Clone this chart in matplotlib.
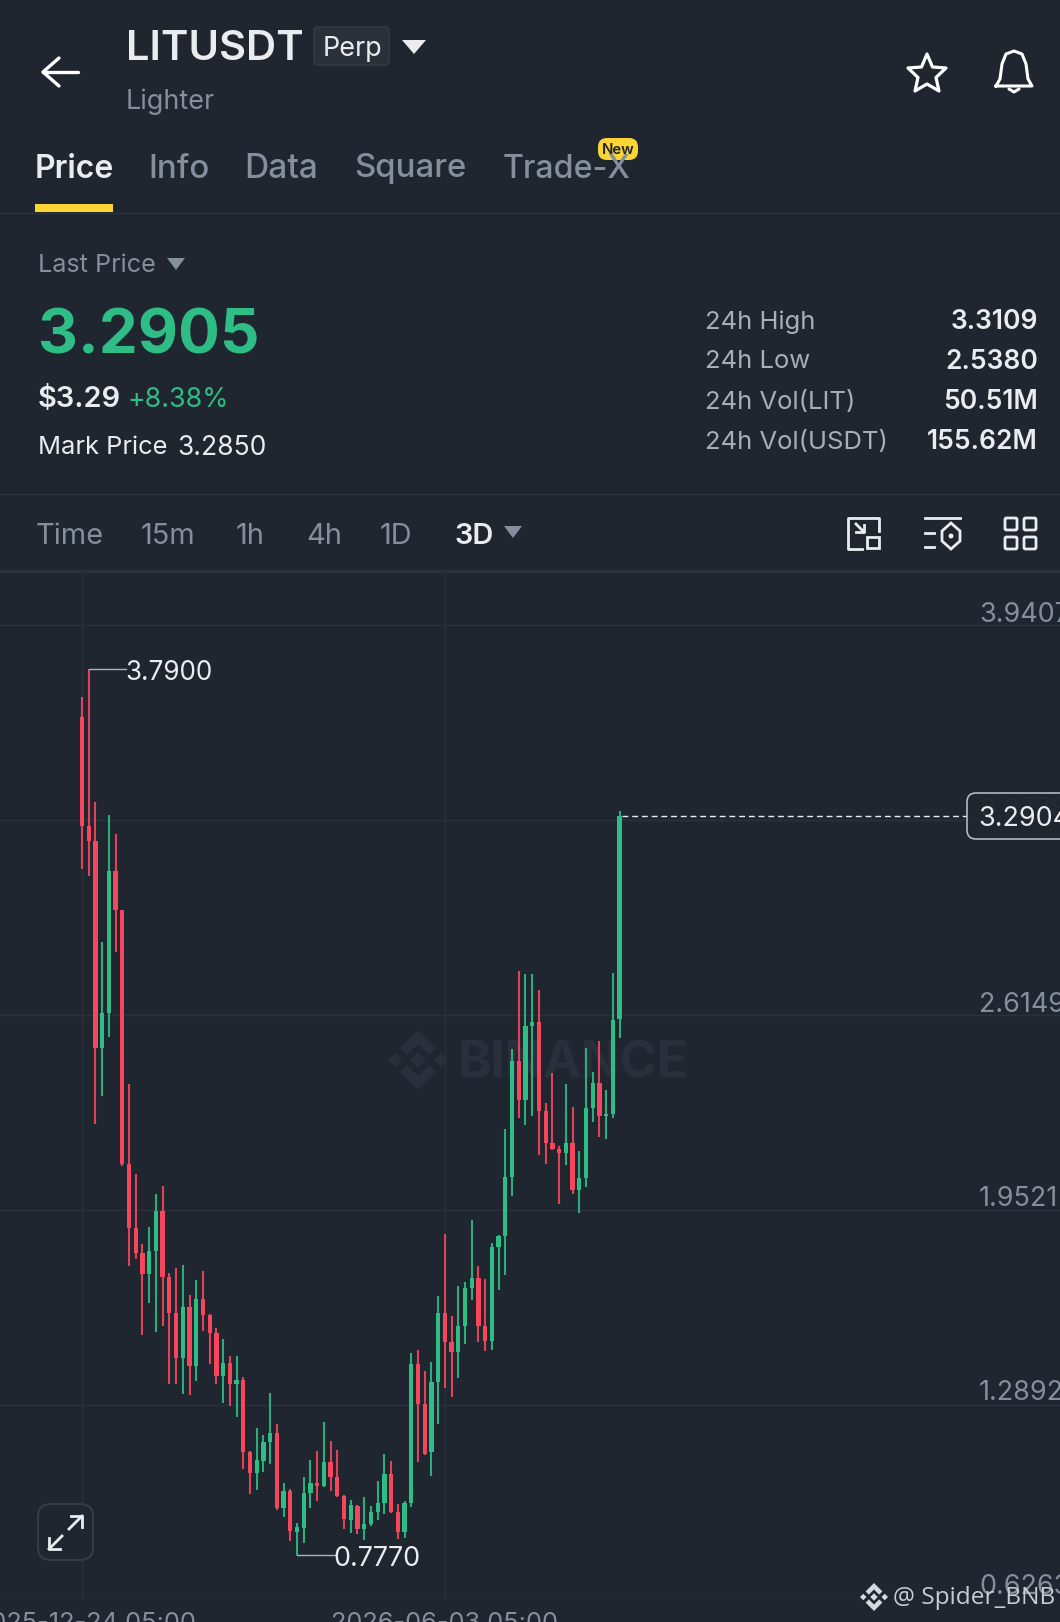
import matplotlib
matplotlib.use("Agg")
import matplotlib.pyplot as plt
from matplotlib.patches import FancyBboxPatch, Polygon, Rectangle, Circle

BG = "#1f2630"
GRID = "#2c323d"
RED = "#f6465d"
GREEN = "#2ebd85"
GREY = "#848e9c"
WHITE = "#eaecef"
YELLOW = "#fcd535"
plt.rcParams["font.family"] = ["Inter", "DejaVu Sans"]

# candles, 3D bars
open_ = [3.627, 3.257, 3.207, 2.501, 2.620, 3.104, 2.972, 2.107, 1.889, 1.806,
         1.733, 1.812, 1.949, 1.725, 1.600, 1.447, 1.623, 1.422, 1.648, 1.593,
         1.534, 1.388, 1.430, 1.360, 1.372, 1.129, 1.058, 1.099, 1.162, 1.194,
         0.938, 0.997, 0.856, 0.871, 0.990, 1.024, 1.013, 1.093, 1.042, 0.979,
         0.897, 0.946, 0.866, 0.884, 0.923, 0.956, 1.053, 0.925, 0.857, 0.954,
         1.428, 1.293, 1.129, 1.367, 1.602, 1.503, 1.467, 1.557, 1.685, 1.721,
         1.557, 1.507, 1.827, 1.863, 2.065, 2.457, 2.326, 2.576, 2.592, 2.288,
         2.180, 2.160, 2.146, 2.178, 2.019, 2.060, 2.297, 2.382, 2.271, 2.279,
         2.601]
close = [3.257, 3.207, 2.501, 2.620, 3.104, 2.972, 2.107, 1.889, 1.806, 1.734,
         1.812, 1.949, 1.725, 1.600, 1.447, 1.623, 1.422, 1.648, 1.593, 1.534,
         1.388, 1.430, 1.360, 1.372, 1.129, 1.058, 1.100, 1.162, 1.194, 0.938,
         0.997, 0.859, 0.872, 0.988, 1.022, 1.013, 1.093, 1.042, 0.979, 0.900,
         0.947, 0.866, 0.884, 0.923, 0.954, 1.053, 0.925, 0.857, 0.954, 1.428,
         1.293, 1.120, 1.367, 1.602, 1.503, 1.467, 1.557, 1.685, 1.721, 1.557,
         1.507, 1.825, 1.863, 2.065, 2.457, 2.326, 2.576, 2.592, 2.288, 2.180,
         2.160, 2.146, 2.178, 2.019, 2.060, 2.297, 2.382, 2.271, 2.279, 2.599,
         3.2904]
high = [3.697, 3.790, 3.338, 2.863, 3.295, 3.229, 2.972, 2.380, 2.073, 1.836,
        1.894, 2.007, 2.034, 1.736, 1.755, 1.763, 1.662, 1.713, 1.745, 1.599,
        1.551, 1.512, 1.454, 1.453, 1.382, 1.132, 1.211, 1.187, 1.328, 1.224,
        1.024, 1.002, 0.888, 1.044, 1.100, 1.133, 1.229, 1.167, 1.134, 0.983,
        0.965, 0.947, 0.975, 0.945, 1.031, 1.120, 1.099, 0.951, 0.963, 1.466,
        1.475, 1.402, 1.433, 1.658, 1.871, 1.592, 1.692, 1.708, 1.917, 1.761,
        1.718, 1.840, 1.865, 2.226, 2.498, 2.765, 2.754, 2.754, 2.699, 2.316,
        2.417, 2.169, 2.380, 2.301, 2.151, 2.501, 2.421, 2.527, 2.359, 2.756,
        3.309]
low = [3.111, 3.088, 2.244, 2.339, 2.539, 2.827, 2.101, 1.762, 1.785, 1.526,
       1.636, 1.535, 1.557, 1.359, 1.360, 1.326, 1.321, 1.369, 1.540, 1.427,
       1.359, 1.296, 1.286, 1.247, 1.071, 0.985, 0.999, 1.060, 1.088, 0.931,
       0.906, 0.826, 0.777, 0.820, 0.939, 0.963, 1.010, 0.997, 0.975, 0.868,
       0.854, 0.848, 0.829, 0.878, 0.897, 0.919, 0.920, 0.832, 0.836, 0.940,
       1.093, 1.118, 1.047, 1.223, 1.347, 1.316, 1.380, 1.497, 1.644, 1.503,
       1.473, 1.475, 1.679, 1.730, 2.000, 2.263, 2.240, 2.272, 2.138, 2.107,
       2.155, 1.972, 2.104, 2.006, 1.942, 2.031, 2.252, 2.201, 2.192, 2.263,
       2.537]

price_ticks = [3.9407, 3.2778, 2.6149, 1.9521, 1.2892, 0.6263]
price_labels = ["3.9407", "3.2778", "2.6149", "1.9521", "1.2892", "0.6263"]
label_pad = [10, 10, 10, 11, 12, 13]
date_idx = [0, 54]
date_labels = ["2025-12-24 05:00", "2026-06-03 05:00"]
date_shift = [3, 0]
last_price = 3.2904
hi_idx, hi_val = 1, 3.79
lo_idx, lo_val = 32, 0.777

tabs = ["Price", "Info", "Data", "Square", "Trade-X"]
tab_x = [35, 148, 244, 354, 503]
tab_size = [32, 33, 33.5, 33, 32.2]
ranges = ["Time", "15m", "1h", "4h", "1D", "3D"]
range_x = [36, 141, 236, 306, 380, 455]
stat_names = ["24h High", "24h Low", "24h Vol(LIT)", "24h Vol(USDT)"]
stat_vals = ["3.3109", "2.5380", "50.51M", "155.62M"]
stat_y = [322, 362, 402, 442]


def fs(n):
    # font px to points at dpi 100
    return n * 0.72


def binance_logo(a, cx, cy, r, color):
    s = r / 30.0
    pts = [
        [(0, -8), (8, 0), (0, 8), (-8, 0)],
        [(-30, 0), (-23, -7), (-16, 0), (-23, 7)],
        [(30, 0), (23, -7), (16, 0), (23, 7)],
        [(0, -30), (18, -12), (11, -5), (0, -16), (-11, -5), (-18, -12)],
        [(0, 30), (18, 12), (11, 5), (0, 16), (-11, 5), (-18, 12)],
    ]
    for p in pts:
        a.add_patch(Polygon([(cx + x * s, cy + y * s) for x, y in p], color=color, lw=0))


fig = plt.figure(figsize=(10.6, 16.22), dpi=100, facecolor=BG)

bg = fig.add_axes([0, 0, 1, 1], zorder=0)
bg.set_xlim(0, 1060)
bg.set_ylim(1622, 0)
bg.axis("off")

# watermark under the candles
binance_logo(bg, 418, 1060, 30, "#2a303b")
bg.text(573, 1064, "BINANCE", color="#2a303b", fontsize=fs(50.5), fontweight="bold",
        ha="center", va="center")

ax = fig.add_axes([0, 22 / 1622, 1, 1029 / 1622], zorder=1)
ax.patch.set_alpha(0)
ax.set_xlim(-12.2, 145.54)
ax.set_ylim(0.6249, 4.1243)
for s in ax.spines.values():
    s.set_visible(False)
ax.set_yticks(price_ticks)
ax.set_xticks(date_idx)
ax.tick_params(length=0, labelleft=False, labelbottom=False)
ax.grid(True, color=GRID, lw=1.0)
ax.set_axisbelow(True)

for i in range(len(open_)):
    c = GREEN if close[i] >= open_[i] else RED
    ax.vlines(i, low[i], high[i], color=c, lw=1.5, alpha=0.9, zorder=2)
    ax.bar(i, abs(close[i] - open_[i]), bottom=min(open_[i], close[i]), width=0.64,
           color=c, lw=0, zorder=3)

for t, lab, pad in zip(price_ticks, price_labels, label_pad):
    col = GREY if lab != "3.2778" else "#39404b"
    ax.annotate(lab, (979 / 1060, t), xycoords=("axes fraction", "data"), xytext=(0, fs(pad)),
                textcoords="offset points", color=col, fontsize=fs(27), va="center", ha="left",
                annotation_clip=False, zorder=1)
for i, lab, dx in zip(date_idx, date_labels, date_shift):
    ax.annotate(lab, (i, 0), xycoords=("data", "axes fraction"), xytext=(fs(dx), fs(-23)),
                textcoords="offset points", color=GREY, fontsize=fs(25.4), va="center", ha="center",
                annotation_clip=False)

# high / low markers
ax.plot([hi_idx, hi_idx + 5.6], [hi_val, hi_val], color="#aeb4bc", lw=1.0, zorder=4)
ax.annotate("3.7900", (hi_idx + 5.5, hi_val), xytext=(0, fs(-4)), textcoords="offset points",
            color=WHITE, fontsize=fs(26.2), va="center", ha="left", zorder=5)
ax.plot([lo_idx, lo_idx + 5.6], [lo_val, lo_val], color="#aeb4bc", lw=1.0, zorder=4)
ax.annotate("0.7770", (lo_idx + 5.4, lo_val), xytext=(0, fs(-4)), textcoords="offset points",
            color=WHITE, fontsize=fs(26.8), va="center", ha="left", zorder=5)

# last price line
ax.plot([80.3, 131.7], [last_price, last_price], color=WHITE, lw=1.0, dashes=(4.2, 2.8), zorder=4)

ui = fig.add_axes([0, 0, 1, 1], zorder=2)
ui.patch.set_alpha(0)
ui.set_xlim(0, 1060)
ui.set_ylim(1622, 0)
ui.axis("off")

# header
ui.plot([43, 78], [72, 72], color="white", lw=2.4, solid_capstyle="round")
ui.plot([59, 43, 59], [58, 72, 86], color="white", lw=2.4, solid_capstyle="round", solid_joinstyle="round")
ui.text(126, 49, "LITUSDT", color=WHITE, fontsize=fs(41.7), fontweight="semibold", va="center")
ui.add_patch(FancyBboxPatch((314, 27), 75, 38, boxstyle="round,pad=0,rounding_size=4",
                            fc="#2b3139", ec="#363c47", lw=1))
ui.text(352, 49, "Perp", color=WHITE, fontsize=fs(27), va="center", ha="center")
ui.add_patch(Polygon([(402, 40), (426, 40), (414, 54)], color=WHITE, lw=0))
ui.text(126, 102, "Lighter", color=GREY, fontsize=fs(27), va="center")
ui.add_patch(Polygon([(927, 54), (932.5, 67), (946, 68), (936, 77.5), (939, 91), (927, 84),
                      (915, 91), (918, 77.5), (908, 68), (921.5, 67)],
                     fc="none", ec="white", lw=2.3, joinstyle="round"))
ui.plot([996, 1000, 1002, 1006, 1014, 1022, 1026, 1028, 1032, 996],
        [86, 79, 64, 54, 51, 54, 64, 79, 86, 86], color="white", lw=2.2, solid_joinstyle="round")
ui.plot([1009, 1014, 1019], [89, 92, 89], color="white", lw=2.2, solid_capstyle="round")

# tabs
for name, x, size in zip(tabs, tab_x, tab_size):
    active = name == "Price"
    ui.text(x, 169, name, color=WHITE if active else GREY, fontsize=fs(size),
            fontweight="semibold" if active else "medium", va="center")
ui.add_patch(Rectangle((35, 204), 78, 8, color=YELLOW, lw=0))
ui.plot([0, 1060], [212.5, 212.5], color=GRID, lw=1)
ui.add_patch(FancyBboxPatch((598, 138), 40, 22, boxstyle="round,pad=0,rounding_size=9",
                            fc=YELLOW, ec="none"))
ui.text(618, 150, "New", color="#1e2329", fontsize=fs(15), fontweight="semibold", va="center", ha="center")

# price block
ui.text(38, 266, "Last Price", color=GREY, fontsize=fs(25.2), va="center")
ui.add_patch(Polygon([(167, 258), (185, 258), (176, 270)], color=GREY, lw=0))
ui.text(38, 337, "3.2905", color=GREEN, fontsize=fs(62), fontweight="bold", va="center")
ui.text(38, 399, "$3.29", color=WHITE, fontsize=fs(29), fontweight="semibold", va="center")
ui.text(128, 400, "+8.38%", color=GREEN, fontsize=fs(26.8), va="center")
ui.text(38, 448, "Mark Price", color=WHITE, fontsize=fs(25.5), va="center")
ui.text(177, 448, "3.2850", color=WHITE, fontsize=fs(26.5), va="center")
for name, val, y in zip(stat_names, stat_vals, stat_y):
    ui.text(705, y, name, color="#a7aeb8", fontsize=fs(25.6), va="center")
    ui.text(1038, y, val, color=WHITE, fontsize=fs(26.4), fontweight="semibold", va="center", ha="right")
ui.plot([0, 1060], [494, 494], color=GRID, lw=1)

# range bar
for name, x in zip(ranges, range_x):
    active = name == "3D"
    ui.text(x, 536, name, color=WHITE if active else GREY, fontsize=fs(29),
            fontweight="semibold" if active else "normal", va="center")
ui.add_patch(Polygon([(504, 526), (522, 526), (513, 538)], color=GREY, lw=0))
ui.plot([0, 1060], [571, 571], color=GRID, lw=2)

# toolbar icons
ui.plot([862, 848, 848, 879, 879], [549, 549, 518, 518, 531], color=WHITE, lw=2, solid_joinstyle="round")
ui.add_patch(Rectangle((867, 537), 12, 11, fc="none", ec=WHITE, lw=2))
ui.plot([856, 864], [524, 532], color=WHITE, lw=2)
ui.plot([856, 864, 864], [532, 532, 525], color=WHITE, lw=2)
ui.plot([925, 960], [518, 518], color=WHITE, lw=2)
ui.plot([925, 934], [533, 533], color=WHITE, lw=2)
ui.plot([925, 934], [547, 547], color=WHITE, lw=2)
ui.add_patch(Polygon([(951, 523), (960, 531), (960, 541), (951, 549), (942, 541), (942, 531)],
                     fc="none", ec=WHITE, lw=2))
ui.add_patch(Circle((951, 536), 2.5, color=WHITE, lw=0))
for x0 in [1005, 1024]:
    for y0 in [518, 537]:
        ui.add_patch(FancyBboxPatch((x0, y0), 12, 12, boxstyle="round,pad=0,rounding_size=1.5",
                                    fc="none", ec=WHITE, lw=2))

# last price tag
ui.add_patch(FancyBboxPatch((967, 793), 120, 46, boxstyle="round,pad=0,rounding_size=9",
                            fc=(0.12, 0.15, 0.19, 0.75), ec="#c0c5cc", lw=1.1))
ui.text(978, 819, "3.2904", color=WHITE, fontsize=fs(27), va="center")

# fullscreen button
ui.add_patch(FancyBboxPatch((38, 1504), 55, 56, boxstyle="round,pad=0,rounding_size=13",
                            fc=BG, ec="#363c45", lw=1.5))
ui.plot([69, 82], [1529, 1516], color=WHITE, lw=2)
ui.plot([71, 82, 82], [1516, 1516, 1527], color=WHITE, lw=2)
ui.plot([62, 49], [1536, 1549], color=WHITE, lw=2)
ui.plot([49, 49, 60], [1538, 1549, 1549], color=WHITE, lw=2)

# post footer
binance_logo(ui, 874, 1597, 14, "#d5d8dc")
ui.text(893, 1598, "@ Spider_BNB", color="#c8ccd2", fontsize=fs(24.4), va="center",
        family=["Open Sans", "DejaVu Sans"])
binance_logo(ui, 874, 1636, 14, "#d5d8dc")
ui.text(893, 1637, "@ Bullish_Post", color="#c8ccd2", fontsize=fs(24.4), va="center", clip_on=False,
        family=["Open Sans", "DejaVu Sans"])

fig.savefig("out.png", dpi=100, facecolor=BG)
